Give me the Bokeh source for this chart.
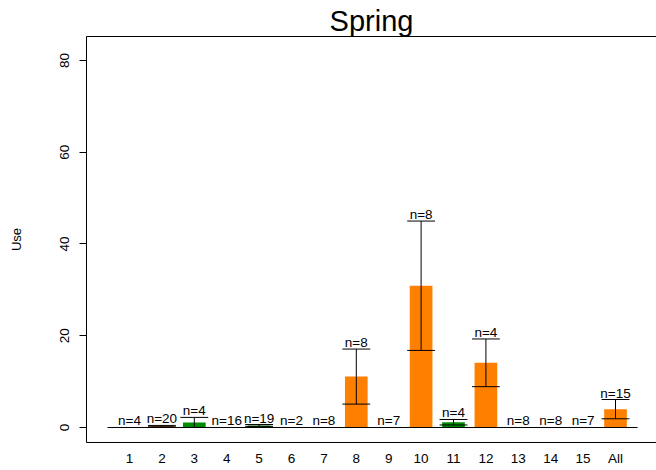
from bokeh.plotting import figure
from bokeh.models import Range1d, FixedTicker, LinearAxis, ColumnDataSource
from bokeh.embed import file_html
from bokeh.resources import INLINE
from bokeh.core.properties import value

categories = ["1", "2", "3", "4", "5", "6", "7", "8", "9", "10", "11", "12", "13", "14", "15", "All"]
means = [0, 0.3, 1.1, 0, 0.45, 0, 0, 11.1, 0, 30.9, 1.15, 14.1, 0, 0, 0, 4.0]
errors = [0, 0.15, 1.1, 0, 0.2, 0, 0, 6.0, 0, 14.1, 0.6, 5.2, 0, 0, 0, 2.1]
counts = [4, 20, 4, 16, 19, 2, 8, 8, 7, 8, 4, 4, 8, 8, 7, 15]
groups = ["o", "o", "g", "o", "g", "o", "o", "o", "o", "o", "g", "o", "o", "o", "o", "o"]

ORANGE = "#FF7F00"
GREEN = "#008B00"
FONT = "Liberation Sans"

xs = list(range(1, len(categories) + 1))
colors = [ORANGE if g == "o" else GREEN for g in groups]
upper = [m + e for m, e in zip(means, errors)]
lower = [max(m - e, 0) for m, e in zip(means, errors)]
labels = ["n=%d" % n for n in counts]

p = figure(width=656, height=470, output_backend="svg", toolbar_location=None,
           x_range=Range1d(-0.327, 17.265), y_range=Range1d(-3.27, 85.23),
           x_axis_location=None, y_axis_location=None,
           min_border_left=86, min_border_right=0, min_border_top=36, min_border_bottom=28)
p.xgrid.visible = False
p.ygrid.visible = False
p.outline_line_color = None
p.background_fill_color = "white"
p.border_fill_color = "white"

# title
p.title.text = "Spring"
p.title.align = "center"
p.title.text_font = FONT
p.title.text_font_size = "29px"
p.title.text_font_style = "normal"
p.title.text_color = "black"
p.title.standoff = 0

# top frame line
top_axis = LinearAxis(ticker=FixedTicker(ticks=[]), major_label_text_font_size="0px",
                      major_tick_out=0, major_tick_in=0, minor_tick_out=0, minor_tick_in=0,
                      major_label_standoff=0, axis_line_color="black", axis_line_width=1)
p.add_layout(top_axis, "above")

# y axis
ya = LinearAxis(ticker=FixedTicker(ticks=[0, 20, 40, 60, 80]))
ya.major_label_orientation = "vertical"
ya.major_label_text_font = FONT
ya.major_label_text_font_size = "13.5px"
ya.major_label_text_color = "black"
ya.major_tick_out = 7
ya.major_tick_in = 0
ya.minor_tick_out = 0
ya.minor_tick_in = 0
ya.major_tick_line_color = "black"
ya.axis_line_color = "black"
ya.major_label_standoff = 10
ya.axis_label = "Use"
ya.axis_label_text_font = FONT
ya.axis_label_text_font_size = "13px"
ya.axis_label_text_font_style = "normal"
ya.axis_label_text_color = "black"
ya.axis_label_standoff = 34
p.add_layout(ya, "left")

# x axis
xa = LinearAxis(ticker=FixedTicker(ticks=xs))
xa.major_label_overrides = {x: c for x, c in zip(xs, categories)}
xa.major_label_text_font = FONT
xa.major_label_text_font_size = "13.5px"
xa.major_label_text_color = "black"
xa.major_tick_out = 0
xa.major_tick_in = 0
xa.minor_tick_out = 0
xa.minor_tick_in = 0
xa.major_tick_line_color = None
xa.minor_tick_line_color = None
xa.axis_line_color = "black"
xa.major_label_standoff = 8
p.add_layout(xa, "below")

src = ColumnDataSource(dict(x=xs, top=means, color=colors, upper=upper, lower=lower, label=labels))

# bars
p.vbar(x="x", top="top", bottom=0, width=0.7, fill_color="color", line_color=None, source=src)

# baseline
p.line(x=[xs[0] - 0.68, xs[-1] + 0.68], y=[0, 0], line_color="black", line_width=1)

# error bars
ex = [x for x, e in zip(xs, errors) if e > 0]
eu = [u for u, e in zip(upper, errors) if e > 0]
el = [l for l, e in zip(lower, errors) if e > 0]
cap = 0.43
p.segment(x0=ex, y0=el, x1=ex, y1=eu, line_color="black", line_width=1)
p.segment(x0=[x - cap for x in ex], y0=eu, x1=[x + cap for x in ex], y1=eu, line_color="black", line_width=1)
p.segment(x0=[x - cap for x in ex], y0=el, x1=[x + cap for x in ex], y1=el, line_color="black", line_width=1)

# n labels
p.text(x="x", y="upper", text="label", source=src, text_align="center", text_baseline="bottom",
       text_font=value(FONT), text_font_size="13.5px", text_color="black", y_offset=1)

open("out.html", "w").write(file_html(p, INLINE))
